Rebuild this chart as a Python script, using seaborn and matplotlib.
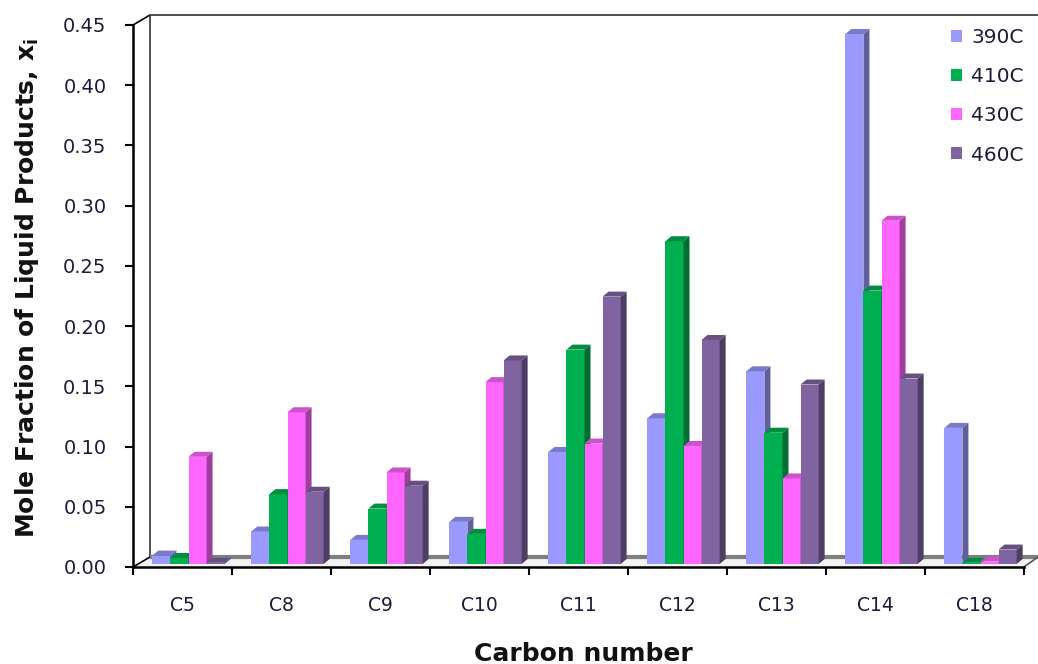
import numpy as np
import pandas as pd
import seaborn as sns
import matplotlib
matplotlib.use("Agg")
import matplotlib.pyplot as plt
from matplotlib.patches import Polygon, Patch
from matplotlib.lines import Line2D
from matplotlib.transforms import Affine2D, IdentityTransform
import matplotlib.colors as mcolors

# Mole fraction of liquid products by carbon number at four temperatures
carbon = ["C5", "C8", "C9", "C10", "C11", "C12", "C13", "C14", "C18"]
temps = ["390C", "410C", "430C", "460C"]
x_390 = [0.007, 0.027, 0.020, 0.035, 0.093, 0.121, 0.160, 0.440, 0.113]
x_410 = [0.005, 0.058, 0.046, 0.025, 0.178, 0.268, 0.109, 0.227, 0.001]
x_430 = [0.089, 0.126, 0.076, 0.151, 0.100, 0.098, 0.071, 0.285, 0.002]
x_460 = [0.001, 0.060, 0.065, 0.169, 0.222, 0.186, 0.149, 0.154, 0.012]
colors = ["#9999FF", "#00B050", "#FF66FF", "#8064A2"]
y_ticks = [0.00, 0.05, 0.10, 0.15, 0.20, 0.25, 0.30, 0.35, 0.40, 0.45]

df = pd.DataFrame({
    "Carbon": carbon * 4,
    "Temp": [t for t in temps for _ in carbon],
    "x": x_390 + x_410 + x_430 + x_460,
})

sns.set_theme(style="white")
plt.rcParams["font.family"] = ["DejaVu Sans"]

W, H = 1038, 664
fig = plt.figure(figsize=(W / 100, H / 100), dpi=100)
# plot area in pixel terms (from top-left)
L, R, T, B = 133, 1024, 25, 567
ax = fig.add_axes([L / W, (H - B) / H, (R - L) / W, (B - T) / H])

sns.barplot(data=df, x="Carbon", y="x", hue="Temp", hue_order=temps,
            palette=colors, width=0.73, saturation=1, legend=False,
            edgecolor="none", linewidth=0, ax=ax)

text_col = "#1c1c3a"
ax.set_xlim(-0.5, len(carbon) - 0.5)
ax.set_ylim(0, 0.45)
ax.set_yticks(y_ticks)
ax.set_yticklabels([f"{v:.2f}" for v in y_ticks])
ax.set_xticks(range(len(carbon)))
ax.set_xticklabels(carbon)
ax.set_xticks(np.arange(-0.5, len(carbon)), minor=True)
ax.tick_params(axis="x", which="major", length=0, pad=21, labelsize=13.5,
               labelcolor=text_col)
ax.tick_params(axis="x", which="minor", length=6, width=1.5, color="black",
               direction="out", bottom=True)
ax.tick_params(axis="y", length=6, width=1.5, color="black", direction="out",
               left=True, labelsize=14, labelcolor=text_col, pad=13)
for side in ["top", "right"]:
    ax.spines[side].set_visible(False)
for side in ["left", "bottom"]:
    ax.spines[side].set_color("black")
    ax.spines[side].set_linewidth(1.8)
ax.grid(False)
ax.patch.set_alpha(0)
ax.set_xlabel("")
ax.set_ylabel("")

fig.text(583 / W, 1 - 654 / H, "Carbon number", ha="center", va="center",
         fontsize=18, fontweight="bold", color="#111111")
fig.text(27 / W, 1 - 288 / H,
         r"Mole Fraction of Liquid Products, $\mathbf{x}_\mathbf{i}$",
         ha="center", va="center", rotation=90, fontsize=18,
         fontweight="bold", color="#111111")

# 3D look: shift bars into the floor and add side and top faces
shift_x, shift_y = 6, 3
dx, dy = 6, 5
bars = sorted([p for p in ax.patches if hasattr(p, "get_width")],
              key=lambda p: p.get_x())
shift = Affine2D().translate(shift_x, shift_y)
for k, p in enumerate(bars):
    z = 3 + k * 0.01
    p.set_transform(ax.transData + shift)
    p.set_zorder(z)
    x0, y0 = p.get_x(), p.get_y()
    x1, y1 = x0 + p.get_width(), y0 + p.get_height()
    (px0, py0), (px1, py1) = ax.transData.transform([(x0, y0), (x1, y1)])
    px0 += shift_x; px1 += shift_x; py0 += shift_y; py1 += shift_y
    base = np.array(mcolors.to_rgb(p.get_facecolor()))
    side = Polygon([(px1, py0), (px1 + dx, py0 + dy), (px1 + dx, py1 + dy), (px1, py1)],
                   closed=True, facecolor=base * 0.62, edgecolor="none",
                   transform=IdentityTransform(), zorder=z + 0.005)
    top = Polygon([(px0, py1), (px0 + dx, py1 + dy), (px1 + dx, py1 + dy), (px1, py1)],
                  closed=True, facecolor=base * 0.8, edgecolor="none",
                  transform=IdentityTransform(), zorder=z + 0.005)
    ax.add_artist(side)
    ax.add_artist(top)


def wall_line(pts, color="black", lw=1.2, z=1):
    xs = [px for px, _ in pts]
    ys = [H - py for _, py in pts]
    ax.add_artist(Line2D(xs, ys, color=color, lw=lw, transform=IdentityTransform(),
                         solid_capstyle="butt", clip_on=False, zorder=z))


# back wall and floor outline
depth_x, depth_y = 17, 10
floor = Polygon([(L, H - B), (L + depth_x, H - B + depth_y), (R + 14, H - B + depth_y),
                 (R, H - B)], closed=True, facecolor="#f2f2f2", edgecolor="none",
                transform=IdentityTransform(), clip_on=False, zorder=0.5)
ax.add_artist(floor)
wall_line([(L, T), (L + depth_x, T - depth_y)])
wall_line([(L + depth_x, B - depth_y), (L + depth_x, T - depth_y), (W + 5, T - depth_y)],
          color="#333333", lw=1.2)
wall_line([(L, B), (L + depth_x, B - depth_y)])
wall_line([(L + depth_x, B - depth_y), (R + 14, B - depth_y)], color="#7f7f7f", lw=3)
wall_line([(R, B), (R + 14, B - depth_y)], color="#555555", lw=1.2)

handles = [Patch(facecolor=c, edgecolor="none") for c in colors]
fig.legend(handles, temps, loc="upper left", bbox_to_anchor=(937 / W, 1 - 14 / H),
           frameon=False, fontsize=14.5, handlelength=0.55, handleheight=0.55,
           handletextpad=0.45, labelspacing=1.0, labelcolor=text_col,
           borderpad=0.2)

fig.savefig("out.png", dpi=100, facecolor="white")
